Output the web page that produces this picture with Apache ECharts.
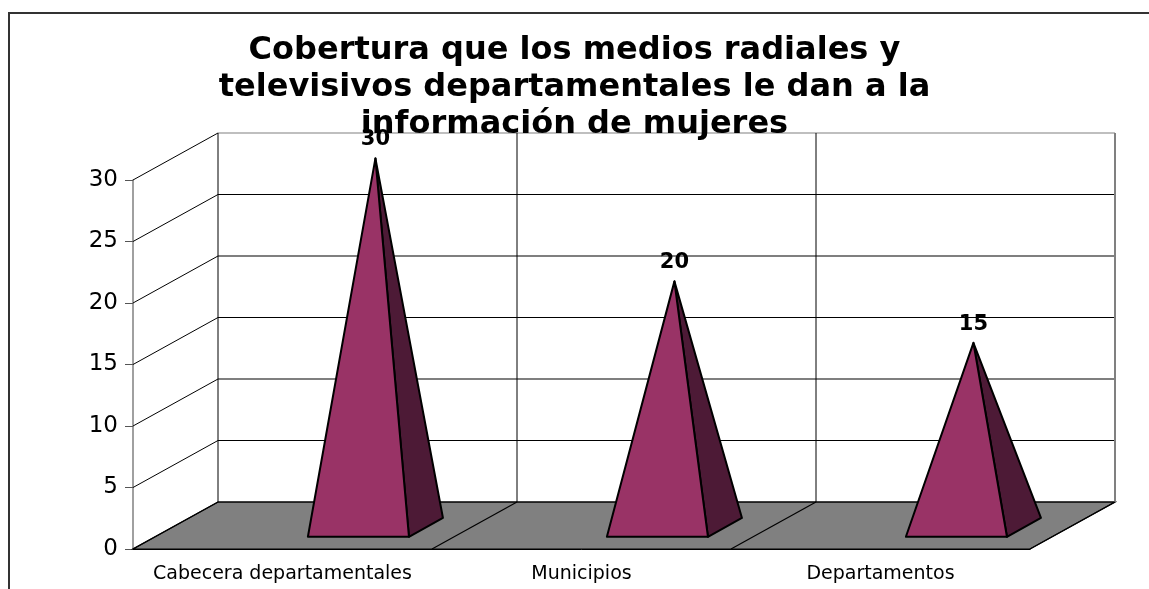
<!DOCTYPE html>
<html style="height: 100%">
  <head>
    <meta charset="utf-8" />
  </head>
  <body style="height: 100%; margin: 0; background: #fff">
    <div id="container" style="width: 1149px; height: 589px"></div>

    <script src="https://cdn.jsdelivr.net/npm/echarts@6/dist/echarts.min.js"></script>

    <script type="text/javascript">
      var categories = ["Cabecera departamentales", "Municipios", "Departamentos"];
      var values = [30, 20, 15];
      var yTicks = [0, 5, 10, 15, 20, 25, 30];

      // fake 3d: depth offset of the back wall
      var DX = 85, DY = -47;
      // pyramid base in depth fractions, and its shift inside the band
      var F1 = 0.26, F2 = 0.66, FM = 0.46;
      var SHIFT = 0.18, HALF = 0.169;

      var dom = document.getElementById("container");
      var myChart = echarts.init(dom);

      function renderWall(params, api) {
        var cs = params.coordSys;
        var v = api.value(1);
        var y = api.coord([0, v])[1];
        var x0 = cs.x, x1 = cs.x + cs.width;
        var children = [];
        if (v === 0) {
          children.push({
            type: "polygon",
            shape: { points: [[x0, y], [x1, y], [x1 + DX, y + DY], [x0 + DX, y + DY]] },
            style: { fill: "#808080", stroke: "#000", lineWidth: 1.2 }
          });
        } else {
          children.push({
            type: "line",
            shape: { x1: x0, y1: y, x2: x0 + DX, y2: y + DY },
            style: { stroke: "#000", lineWidth: 1 }
          });
        }
        children.push({
          type: "line",
          shape: { x1: x0 + DX, y1: y + DY, x2: x1 + DX, y2: y + DY },
          style: { stroke: v === 30 ? "#808080" : "#000", lineWidth: 1.2 }
        });
        return { type: "group", children: children };
      }

      function renderDivider(params, api) {
        var i = api.value(0);
        var bw = api.size([1, 0])[0];
        var y0 = api.coord([i, 0])[1];
        var yTop = api.coord([i, 30])[1];
        var xl = api.coord([i, 0])[0] - bw / 2;
        var xs = [xl];
        if (i === categories.length - 1) xs.push(xl + bw);
        var children = [];
        xs.forEach(function (x, k) {
          var last = i === categories.length - 1 && k === 1;
          children.push({
            type: "line",
            shape: { x1: x + DX, y1: yTop + DY, x2: x + DX, y2: y0 + DY },
            style: { stroke: last ? "#808080" : "#000", lineWidth: last ? 2 : 1 }
          });
          children.push({
            type: "line",
            shape: { x1: x, y1: y0, x2: x + DX, y2: y0 + DY },
            style: { stroke: "#000", lineWidth: 1.2 }
          });
        });
        return { type: "group", children: children };
      }

      function renderPyramid(params, api) {
        var i = api.value(0);
        var v = api.value(1);
        var base = api.coord([i, 0]);
        var top = api.coord([i, v]);
        var bw = api.size([1, 0])[0];
        var cx = base[0] + SHIFT * bw;
        var hw = HALF * bw;
        var fl = [cx - hw + F1 * DX, base[1] + F1 * DY];
        var fr = [cx + hw + F1 * DX, base[1] + F1 * DY];
        var br = [cx + hw + F2 * DX, base[1] + F2 * DY];
        var apex = [cx + FM * DX, top[1] + FM * DY];
        return {
          type: "group",
          children: [
            {
              type: "polygon",
              shape: { points: [apex, fr, br] },
              style: { fill: "#4d1a36", stroke: "#000", lineWidth: 2, lineJoin: "round" }
            },
            {
              type: "polygon",
              shape: { points: [apex, fl, fr] },
              style: { fill: "#993366", stroke: "#000", lineWidth: 2, lineJoin: "round" }
            },
            {
              type: "text",
              x: apex[0],
              y: apex[1] - 8,
              style: {
                text: String(v),
                align: "center",
                verticalAlign: "bottom",
                fontFamily: "DejaVu Sans",
                fontWeight: "bold",
                fontSize: 21,
                fill: "#000"
              }
            }
          ]
        };
      }

      var option = {
        backgroundColor: "#fff",
        animation: false,
        title: {
          text: "Cobertura que los medios radiales y\ntelevisivos departamentales le dan a la\ninformación de mujeres",
          left: "center",
          top: 27,
          padding: [5, 0, 5, 24],
          textStyle: {
            fontFamily: "DejaVu Sans",
            fontWeight: "bold",
            fontSize: 32,
            lineHeight: 37,
            align: "center",
            color: "#000"
          }
        },
        graphic: [
          {
            type: "rect",
            shape: { x: 9, y: 13, width: 1200, height: 700 },
            style: { fill: null, stroke: "#333", lineWidth: 2 },
            silent: true,
            z: -10
          }
        ],
        grid: { left: 133, right: 119, top: 180, bottom: 40 },
        xAxis: {
          type: "category",
          data: categories,
          axisLine: { lineStyle: { color: "#000", width: 1 } },
          axisTick: { length: 7, lineStyle: { color: "#000" } },
          axisLabel: {
            interval: 0,
            margin: 16,
            fontFamily: "DejaVu Sans",
            fontSize: 19,
            color: "#000"
          },
          splitLine: { show: false }
        },
        yAxis: {
          type: "value",
          min: 0,
          max: 30,
          interval: 5,
          axisLine: { show: true, lineStyle: { color: "#808080", width: 1.5 } },
          axisTick: { show: true, length: 8, lineStyle: { color: "#555" } },
          axisLabel: {
            margin: 15,
            fontFamily: "DejaVu Sans",
            fontSize: 23,
            color: "#000"
          },
          splitLine: { show: false }
        },
        series: [
          {
            name: "walls",
            type: "custom",
            silent: true,
            z: 1,
            renderItem: renderWall,
            data: yTicks.map(function (t) { return [0, t]; })
          },
          {
            name: "dividers",
            type: "custom",
            silent: true,
            z: 2,
            renderItem: renderDivider,
            data: categories.map(function (c, i) { return [i, 0]; })
          },
          {
            name: "Cobertura",
            type: "custom",
            silent: true,
            z: 3,
            renderItem: renderPyramid,
            data: values.map(function (v, i) { return [i, v]; })
          }
        ]
      };

      option && myChart.setOption(option);
    </script>
  </body>
</html>
